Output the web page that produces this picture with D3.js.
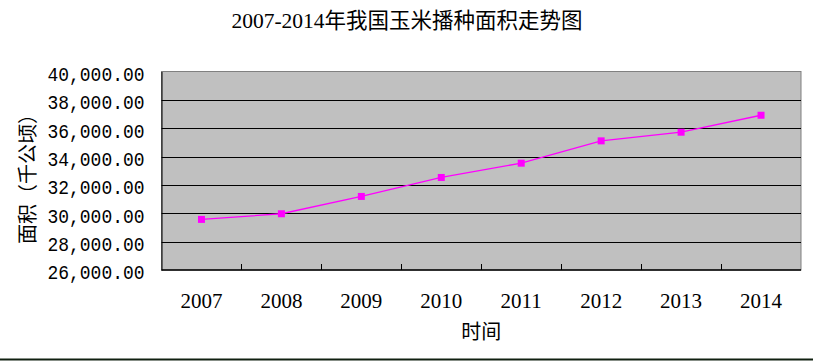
<!DOCTYPE html>
<html>
<head>
<meta charset="utf-8">
<script src="https://cdn.jsdelivr.net/npm/d3@7"></script>
<style>
  html, body { margin: 0; padding: 0; background: #fff; }
  svg { display: block; }
</style>
</head>
<body>
<svg id="chart"></svg>
<script>
var years = ['2007', '2008', '2009', '2010', '2011', '2012', '2013', '2014'];
var area = [29568, 29967, 31188, 32526, 33535, 35108, 35718, 36915];
var yTicks = [26000, 28000, 30000, 32000, 34000, 36000, 38000, 40000];

var width = 813;
var height = 362;
var margin = {top: 71.5, right: 12, bottom: 92, left: 161.5};

var svg = d3.select('#chart')
  .attr('width', width)
  .attr('height', height);

var x = d3.scaleBand()
  .domain(years)
  .range([margin.left, width - margin.right]);

var y = d3.scaleLinear()
  .domain([26000, 40000])
  .range([height - margin.bottom, margin.top]);

var serif = '"Liberation Serif", "Noto Sans CJK SC", serif';
var cjk = '"Noto Sans CJK SC", "Liberation Serif", sans-serif';

// plot area background
svg.append('rect')
  .attr('x', x.range()[0])
  .attr('y', y(40000))
  .attr('width', x.range()[1] - x.range()[0])
  .attr('height', y(26000) - y(40000))
  .attr('fill', '#c0c0c0')
  .attr('stroke', '#808080')
  .attr('stroke-width', 1);

// horizontal gridlines
svg.append('g')
  .selectAll('line')
  .data(yTicks.slice(1, -1))
  .enter().append('line')
  .attr('x1', x.range()[0])
  .attr('x2', x.range()[1])
  .attr('y1', d => Math.round(y(d)) + 0.5)
  .attr('y2', d => Math.round(y(d)) + 0.5)
  .attr('stroke', '#000')
  .attr('stroke-width', 1);

// y axis (labels only, left border black)
var yAxis = d3.axisLeft(y)
  .tickValues(yTicks)
  .tickSize(0)
  .tickPadding(17)
  .tickFormat(d3.format(',.2f'));

var gy = svg.append('g')
  .attr('transform', 'translate(' + x.range()[0] + ',0)')
  .call(yAxis);
gy.select('.domain').attr('stroke', '#000');
gy.selectAll('text')
  .attr('dy', '0.42em')
  .attr('textLength', 97)
  .attr('lengthAdjust', 'spacingAndGlyphs')
  .style('font-family', '"Liberation Mono", monospace')
  .style('font-size', '21px')
  .attr('fill', '#000');

// x axis with tick marks between categories, pointing inwards
var gx = svg.append('g')
  .attr('transform', 'translate(0,' + y(26000) + ')');
gx.append('line')
  .attr('x1', x.range()[0])
  .attr('x2', x.range()[1])
  .attr('stroke', '#000')
  .attr('stroke-width', 1.5);
gx.selectAll('.tick-mark')
  .data(years.slice(1))
  .enter().append('line')
  .attr('class', 'tick-mark')
  .attr('x1', d => Math.round(x(d)) + 0.5)
  .attr('x2', d => Math.round(x(d)) + 0.5)
  .attr('y1', 0)
  .attr('y2', -6)
  .attr('stroke', '#000');
gx.selectAll('.tick-label')
  .data(years)
  .enter().append('text')
  .attr('class', 'tick-label')
  .attr('x', d => x(d) + x.bandwidth() / 2)
  .attr('y', 38)
  .attr('text-anchor', 'middle')
  .style('font-family', serif)
  .style('font-size', '21px')
  .text(d => d);

// series line + square markers
var points = years.map((d, i) => ({year: d, value: area[i]}));

var line = d3.line()
  .x(d => x(d.year) + x.bandwidth() / 2)
  .y(d => y(d.value));

svg.append('path')
  .datum(points)
  .attr('d', line)
  .attr('fill', 'none')
  .attr('stroke', '#ff00ff')
  .attr('stroke-width', 1.3);

svg.append('g')
  .selectAll('rect')
  .data(points)
  .enter().append('rect')
  .attr('x', d => x(d.year) + x.bandwidth() / 2 - 3.5)
  .attr('y', d => y(d.value) - 3.5)
  .attr('width', 7)
  .attr('height', 7)
  .attr('fill', '#ff00ff');

// titles
svg.append('text')
  .attr('x', 407)
  .attr('y', 28)
  .attr('text-anchor', 'middle')
  .style('font-family', serif)
  .style('font-size', '21.5px')
  .text('2007-2014年我国玉米播种面积走势图');

svg.append('text')
  .attr('x', (x.range()[0] + x.range()[1]) / 2)
  .attr('y', 339)
  .attr('text-anchor', 'middle')
  .style('font-family', cjk)
  .style('font-size', '20px')
  .text('时间');

svg.append('text')
  .attr('transform', 'translate(35,174) rotate(-90)')
  .attr('text-anchor', 'middle')
  .style('font-family', cjk)
  .style('font-size', '20px')
  .text('面积（千公顷）');

// frame line at the bottom
svg.append('line')
  .attr('x1', 0)
  .attr('x2', width)
  .attr('y1', 359.5)
  .attr('y2', 359.5)
  .attr('stroke', '#102010')
  .attr('stroke-width', 2);
</script>
</body>
</html>
